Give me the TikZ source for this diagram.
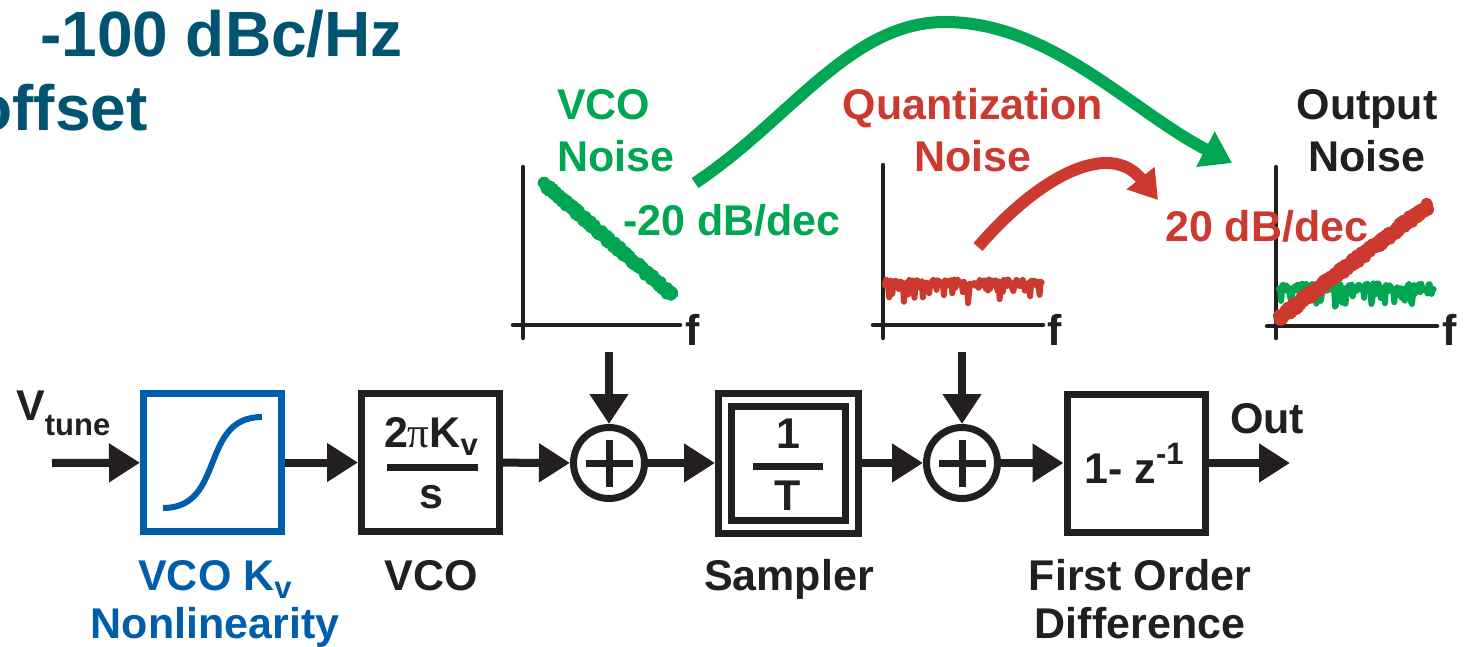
\documentclass[tikz,border=0pt]{standalone}
\usepackage{fontspec}
\setmainfont{Liberation Sans}
\newfontfamily\greekserif{Liberation Serif}
\usetikzlibrary{arrows.meta, positioning}
\definecolor{vcogreen}{RGB}{0,166,81}
\definecolor{qred}{RGB}{204,57,46}
\definecolor{kvblue}{RGB}{0,93,170}
\definecolor{titleteal}{RGB}{0,84,112}
\definecolor{ink}{RGB}{35,31,32}
\newcommand{\lbl}{\fontsize{43}{50}\selectfont\bfseries}
\newcommand{\smalllbl}{\fontsize{31}{31}\selectfont\bfseries}

\begin{document}
\begin{tikzpicture}[x=1pt, y=-1pt,
	block/.style={draw=ink, line width=7pt, minimum size=138pt, inner sep=0pt},
	adder/.style={circle, draw=ink, line width=7pt, minimum size=71pt, inner sep=0pt},
	sig/.style={ink, line width=8pt, -{Triangle[length=31pt,width=37pt]}},
	axis/.style={ink, line width=4.5pt, line cap=round},
	txt/.style={font=\lbl, text=ink, inner sep=0pt},
	noisy/.style={line width=#1, line join=round, line cap=round},
	bend/.style={line width=12pt, #1, -{Triangle[length=30pt,width=38pt]}}]
				\useasboundingbox (0,0) rectangle (1466,647);
				\clip (0,0) rectangle (1466,647);
				% Title text
				\node[txt, text=titleteal, font=\fontsize{64}{70}\selectfont\bfseries, anchor=base west](T1) at (40,57){-100 dBc/Hz};
				\node[txt, text=titleteal, font=\fontsize{64}{70}\selectfont\bfseries, anchor=base east](T2) at (148,131){offset};
				% Blocks:
				\node[block, draw=kvblue](nl) at (212.5,462.5){};
				\node[block](vco) at (430.5,462.5){};
				\node[adder](s1) at (609,463){};
				\node[block, double=white, double distance=6pt, minimum size=127pt, outer sep=10pt](smp) at (788.5,463){};
				\node[adder](s2) at (962,463){};
				\node[block](diff) at (1136,463){};
				\coordinate (vin) at (52,463);
				\coordinate (out) at (1290,463);
				\coordinate (n1) at (609,352);
				\coordinate (n2) at (962,352);
				% Contents
				\draw[kvblue, line width=6pt] (163,508) .. controls (226,508) and (199,417) .. (262,417);
				\node[txt, anchor=base](kvnum) at (431,447){2{\greekserif\mdseries π}K\raisebox{-8pt}{\smalllbl v}};
				\draw[ink, line width=7pt] (387,467) -- (478,467);
				\node[txt, anchor=base](kvden) at (431,508){s};
				\node[txt, anchor=base](tnum) at (788,448){1};
				\draw[ink, line width=7pt] (753,466) -- (823,466);
				\node[txt, anchor=base](tden) at (788,510){T};
				\node[txt, anchor=base](zdiff) at (1134,483){1- z\raisebox{19pt}{\smalllbl -1}};
				\foreach \s in {s1,s2}{
					\draw[ink, line width=7pt] (\s.center) ++(-23.5,0) -- ++(47,0);
					\draw[ink, line width=7pt] (\s.center) ++(0,-23.5) -- ++(0,47);
				}
				% Signal path
				\draw[sig] (vin) -- (nl);
				\draw[sig] (nl) -- (vco);
				\draw[sig] (vco) -- (s1);
				\draw[sig] (s1) -- (smp);
				\draw[sig] (smp) -- (s2);
				\draw[sig] (s2) -- (diff);
				\draw[sig] (diff) -- (out);
				\draw[sig, -{Triangle[length=30pt,width=37pt]}] (n1) -- (s1);
				\draw[sig, -{Triangle[length=30pt,width=37pt]}] (n2) -- (s2);
				% Labels
				\node[txt, anchor=base west](vtune) at (16,420){V\raisebox{-15pt}{\smalllbl tune}};
				\node[txt, anchor=base west](outlbl) at (1230,433){Out};
				\node[txt, text=kvblue, anchor=base, align=center](nllbl) at (215,638){VCO K\raisebox{-8pt}{\smalllbl v}\\[-2pt]Nonlinearity};
				\node[txt, anchor=base](vcolbl) at (431,590){VCO};
				\node[txt, anchor=base](smplbl) at (789,590){Sampler};
				\node[txt, anchor=base, align=center](difflbl) at (1140,638){First Order\\[-2pt]Difference};
				% Spectra
				\draw[axis] (523,167) -- (523,338);
				\draw[axis] (513,325) -- (680,325);
				\draw[axis] (883,165) -- (883,338);
				\draw[axis] (873,325) -- (1043,325);
				\draw[axis] (1276,167) -- (1276,338);
				\draw[axis] (1267,326) -- (1437,326);
				\node[txt, anchor=base west](f1) at (685,345){f};
				\node[txt, anchor=base west](f2) at (1047,345){f};
				\node[txt, anchor=base west](f3) at (1442,345){f};
				\pgfmathsetseed{11}
				\draw[vcogreen, noisy=11pt] plot[domain=0:1, samples=240, variable=\t] ({543+130*\t},{183+113*\t+4*rand});
				\draw[qred, noisy=6pt] plot[domain=0:1, samples=150, variable=\t] ({885+157*\t},{283+4*rand+18*rnd^6});
				\draw[vcogreen, noisy=6pt] plot[domain=0:1, samples=150, variable=\t] ({1279+155*\t},{287+4*rand+18*rnd^6});
				\draw[qred, noisy=12pt] plot[domain=0:1, samples=240, variable=\t] ({1279+149*\t},{318-112*\t+4*rand});
				\node[txt, text=vcogreen, anchor=base west, align=left](vcon) at (557,172){VCO\\[2pt]Noise};
				\node[txt, text=qred, anchor=base, align=center](qn) at (973,172){Quantization\\[2pt]Noise};
				\node[txt, anchor=base, align=center](outn) at (1367,172){Output\\[2pt]Noise};
				\node[txt, text=vcogreen, anchor=base west](slope1) at (623,235){-20 dB/dec};
				\node[txt, text=qred, anchor=base west](slope2) at (1165,241){20 dB/dec};
				% Curved arrows
				\draw[bend=vcogreen] (695,183) .. controls (790,120) and (850,22) .. (945,22) .. controls (1050,22) and (1130,110) .. (1232,163);
				\draw[bend=qred, -{Triangle[length=28pt,width=34pt]}] (978,247) .. controls (1040,175) and (1110,140) .. (1158,200);
			\end{tikzpicture}
\end{document}
